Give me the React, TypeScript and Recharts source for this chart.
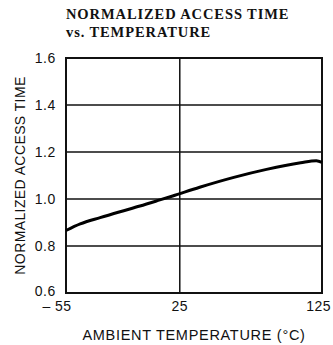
import { CartesianGrid, Label, Line, LineChart, XAxis, YAxis } from "recharts";

const temps = [-55, -45, -31, -17, -3, 11, 20, 39, 63, 86, 110, 121, 125];
const accessTime = [
  0.866, 0.894, 0.921, 0.946, 0.97, 0.996, 1.013, 1.05, 1.092, 1.126, 1.154,
  1.163, 1.156,
];
const xTicks = [-55, 25, 125];
const yTicks = [0.6, 0.8, 1.0, 1.2, 1.4, 1.6];

const data = temps.map((t, i) => ({ t, v: accessTime[i] }));

const SANS = "'Liberation Sans', Arial, sans-serif";

function XTick({ x, y, payload }: { x?: number; y?: number; payload?: { value: number } }) {
  const v = payload?.value ?? 0;
  let text = String(v);
  let dx = 0;
  let anchor: "start" | "middle" | "end" = "middle";
  if (v === -55) {
    text = "\u2013 55";
    dx = -9;
  } else if (v === 125) {
    anchor = "end";
    dx = 9;
  }
  return (
    <text
      x={(x ?? 0) + dx}
      y={(y ?? 0) + 10}
      textAnchor={anchor}
      fontFamily={SANS}
      fontSize={14}
      letterSpacing={0.5}
      fill="#111"
    >
      {text}
    </text>
  );
}

function YTick({ x, y, payload }: { x?: number; y?: number; payload?: { value: number } }) {
  const v = payload?.value ?? 0;
  return (
    <text
      x={x}
      y={(y ?? 0) + (v === 0.6 ? -2 : 0)}
      dy="0.355em"
      textAnchor="end"
      fontFamily={SANS}
      fontSize={14}
      letterSpacing={0.6}
      fill="#111"
    >
      {v.toFixed(1)}
    </text>
  );
}

export default function App() {
  return (
    <div
      style={{
        position: "fixed",
        left: 0,
        top: 0,
        width: 333,
        height: 345,
        background: "#fff",
      }}
    >
      <div
        style={{
          position: "absolute",
          left: 66,
          top: 5,
          fontFamily: "'Liberation Serif', 'Times New Roman', serif",
          fontWeight: "bold",
          fontSize: 14.5,
          letterSpacing: 0.9,
          lineHeight: "18px",
          color: "#111",
        }}
      >
        NORMALIZED ACCESS TIME
        <br />
        vs. TEMPERATURE
      </div>
      <LineChart
        width={333}
        height={345}
        data={data}
        margin={{ top: 58, right: 11, left: 0, bottom: 0 }}
      >
        <CartesianGrid
          stroke="#111"
          strokeWidth={1.5}
          horizontalValues={[0.8, 1.0, 1.2, 1.4]}
          verticalValues={[25]}
        />
        <XAxis
          dataKey="t"
          type="number"
          domain={[-55, 125]}
          ticks={xTicks}
          tickLine={false}
          axisLine={false}
          height={52}
          tick={<XTick />}
          interval={0}
        >
          <Label
            value="AMBIENT TEMPERATURE (°C)"
            position="insideBottom"
            offset={5}
            style={{ fontFamily: SANS, fontSize: 14.5, letterSpacing: 0.7, fill: "#111" }}
          />
        </XAxis>
        <YAxis
          type="number"
          domain={[0.6, 1.6]}
          ticks={yTicks}
          width={66}
          tickLine={false}
          axisLine={false}
          tickSize={8}
          tick={<YTick />}
          interval={0}
        >
          <Label
            value="NORMALIZED ACCESS TIME"
            angle={-90}
            position="insideLeft"
            offset={20}
            style={{ textAnchor: "middle", fontFamily: SANS, fontSize: 14, letterSpacing: 0.4, fill: "#111" }}
          />
        </YAxis>
        <rect
          x={66}
          y={58}
          width={256}
          height={235}
          fill="none"
          stroke="#111"
          strokeWidth={2}
        />
        <Line
          dataKey="v"
          type="monotone"
          stroke="#000"
          strokeWidth={3}
          dot={false}
          isAnimationActive={false}
        />
      </LineChart>
    </div>
  );
}
